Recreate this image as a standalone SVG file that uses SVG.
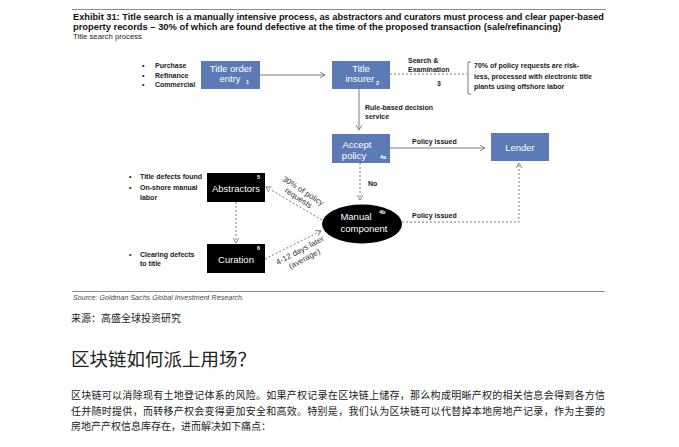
<svg xmlns="http://www.w3.org/2000/svg" width="679" height="447" viewBox="0 0 679 447">
<defs>
<marker id="arr" markerUnits="userSpaceOnUse" markerWidth="8" markerHeight="8" refX="5" refY="3" orient="auto">
<path d="M0,0 L5,3 L0,6" fill="none" stroke="#7a7a7a" stroke-width="0.9"/>
</marker>
</defs>
<style>
text{font-family:"Liberation Sans",Arial,sans-serif}
.cjk{font-family:"Noto Sans CJK SC",sans-serif;fill:#222}
.rule{stroke:#8c8c8c;stroke-width:1}
.blue{fill:#5B7AB6}
.blk{fill:#000}
.bt{fill:#fff;font-size:9.5px;text-anchor:middle}
.sub{fill:#fff;font-size:5.5px;font-weight:bold}
.lbl{fill:#1a1a1a;font-size:7px;font-weight:bold}
.rot{fill:#333;font-size:8px;text-anchor:middle}
.solid{stroke:#7a7a7a;stroke-width:1;fill:none}
.dash{stroke:#7a7a7a;stroke-width:1;fill:none;stroke-dasharray:2,2}
</style>
<rect width="679" height="447" fill="#fff"/>
<g id="header">
<line class="rule" x1="72" y1="9.5" x2="606" y2="9.5"/>
<text x="73" y="20" font-size="8.4" font-weight="bold" fill="#111" textLength="531" lengthAdjust="spacingAndGlyphs">Exhibit 31: Title search is a manually intensive process, as abstractors and curators must process and clear paper-based</text>
<text x="73" y="29.5" font-size="8.4" font-weight="bold" fill="#111" textLength="488" lengthAdjust="spacingAndGlyphs">property records – 30% of which are found defective at the time of the proposed transaction (sale/refinancing)</text>
<text x="73" y="38.5" font-size="8" fill="#222" textLength="69" lengthAdjust="spacingAndGlyphs">Title search process</text>
</g>
<g id="connectors">
<path class="solid" d="M260,75 H325" marker-end="url(#arr)"/>
<path class="solid" d="M359,89 V130" marker-end="url(#arr)"/>
<path class="dash" d="M390,74 H467"/>
<path class="solid" d="M471,62 H468 V94 H471"/>
<path class="solid" d="M390,148 H485" marker-end="url(#arr)"/>
<path class="dash" d="M360,163 V200" marker-end="url(#arr)"/>
<path class="dash" d="M402,222 H519 V163" marker-end="url(#arr)"/>
<path class="dash" d="M322,220 L266,187" marker-end="url(#arr)"/>
<path class="dash" d="M265,259 L321,231" marker-end="url(#arr)"/>
<path class="dash" d="M236,202 V243" marker-end="url(#arr)"/>
</g>
<g id="node-title-order">
<rect class="blue" x="201" y="61" width="59" height="28"/>
<text class="bt" x="231" y="71.5">Title order</text>
<text class="bt" x="230" y="82">entry</text>
<text class="sub" x="246" y="84">1</text>
</g>
<g id="node-title-insurer">
<rect class="blue" x="332" y="61" width="58" height="28"/>
<text class="bt" x="361" y="71.5">Title</text>
<text class="bt" x="360" y="82">insurer</text>
<text class="sub" x="376" y="84.5">2</text>
</g>
<g id="node-accept-policy">
<rect class="blue" x="332" y="134" width="58" height="29"/>
<text class="bt" x="357" y="147.5">Accept</text>
<text class="bt" x="354" y="158.5">policy</text>
<text class="sub" x="380" y="159">4a</text>
</g>
<g id="node-lender">
<rect class="blue" x="491" y="133" width="58" height="28"/>
<text class="bt" x="520" y="151">Lender</text>
</g>
<g id="node-manual">
<ellipse class="blk" cx="362" cy="224" rx="40" ry="19.5"/>
<text class="bt" x="356" y="220">Manual</text>
<text class="bt" x="364" y="232">component</text>
<text class="sub" x="379" y="213.5">4b</text>
</g>
<g id="node-abstractors">
<rect class="blk" x="207" y="173" width="58" height="29"/>
<text class="bt" x="236" y="192">Abstractors</text>
<text class="sub" x="257" y="179">5</text>
</g>
<g id="node-curation">
<rect class="blk" x="207" y="244" width="58" height="29"/>
<text class="bt" x="236" y="263">Curation</text>
<text class="sub" x="257" y="250">6</text>
</g>
<g id="labels">
<text class="lbl" x="142" y="68">•</text><text class="lbl" x="155" y="68">Purchase</text>
<text class="lbl" x="142" y="77.5">•</text><text class="lbl" x="155" y="77.5">Refinance</text>
<text class="lbl" x="142" y="87">•</text><text class="lbl" x="155" y="87">Commercial</text>
<text class="lbl" x="408" y="62.5">Search &amp;</text>
<text class="lbl" x="408" y="72">Examination</text>
<text class="lbl" x="437" y="86">3</text>
<text class="lbl" x="474" y="68">70% of policy requests are risk-</text>
<text class="lbl" x="474" y="78.5">less, processed with electronic title</text>
<text class="lbl" x="474" y="89">plants using offshore labor</text>
<text class="lbl" x="365" y="110">Rule-based decision</text>
<text class="lbl" x="365" y="119">service</text>
<text class="lbl" x="412" y="143.5">Policy issued</text>
<text class="lbl" x="368" y="186">No</text>
<text class="lbl" x="412" y="218">Policy issued</text>
<text class="lbl" x="129" y="179">•</text><text class="lbl" x="140" y="179">Title defects found</text>
<text class="lbl" x="129" y="190">•</text><text class="lbl" x="140" y="190">On-shore manual</text>
<text class="lbl" x="140" y="200">labor</text>
<text class="lbl" x="129" y="257">•</text><text class="lbl" x="140" y="257">Clearing defects</text>
<text class="lbl" x="140" y="266">to title</text>
<g transform="translate(303,191) rotate(33)">
<text class="rot" x="0" y="2.5">30% of policy</text>
<text class="rot" x="0" y="11">requests</text>
</g>
<g transform="translate(300,250.5) rotate(-28)">
<text class="rot" x="0" y="2.5">4-12 days later</text>
<text class="rot" x="0" y="12">(average)</text>
</g>
</g>
<g id="footer">
<line class="rule" x1="72" y1="291.5" x2="605" y2="291.5"/>
<text x="73" y="299.5" font-size="7" font-style="italic" fill="#444" textLength="171" lengthAdjust="spacing">Source: Goldman Sachs Global Investment Research.</text>
<text class="cjk" x="71" y="322" font-size="10">来源：高盛全球投资研究</text>
<text class="cjk" x="71" y="366" font-size="18.5" fill="#111">区块链如何派上用场？</text>
<text class="cjk" x="71" y="399" font-size="10" textLength="534" lengthAdjust="spacing">区块链可以消除现有土地登记体系的风险。如果产权记录在区块链上储存，那么构成明晰产权的相关信息会得到各方信</text>
<text class="cjk" x="71" y="414.5" font-size="10" textLength="534" lengthAdjust="spacing">任并随时提供，而转移产权会变得更加安全和高效。特别是，我们认为区块链可以代替掉本地房地产记录，作为主要的</text>
<text class="cjk" x="71" y="430" font-size="10">房地产产权信息库存在，进而解决如下痛点：</text>
</g>
</svg>
